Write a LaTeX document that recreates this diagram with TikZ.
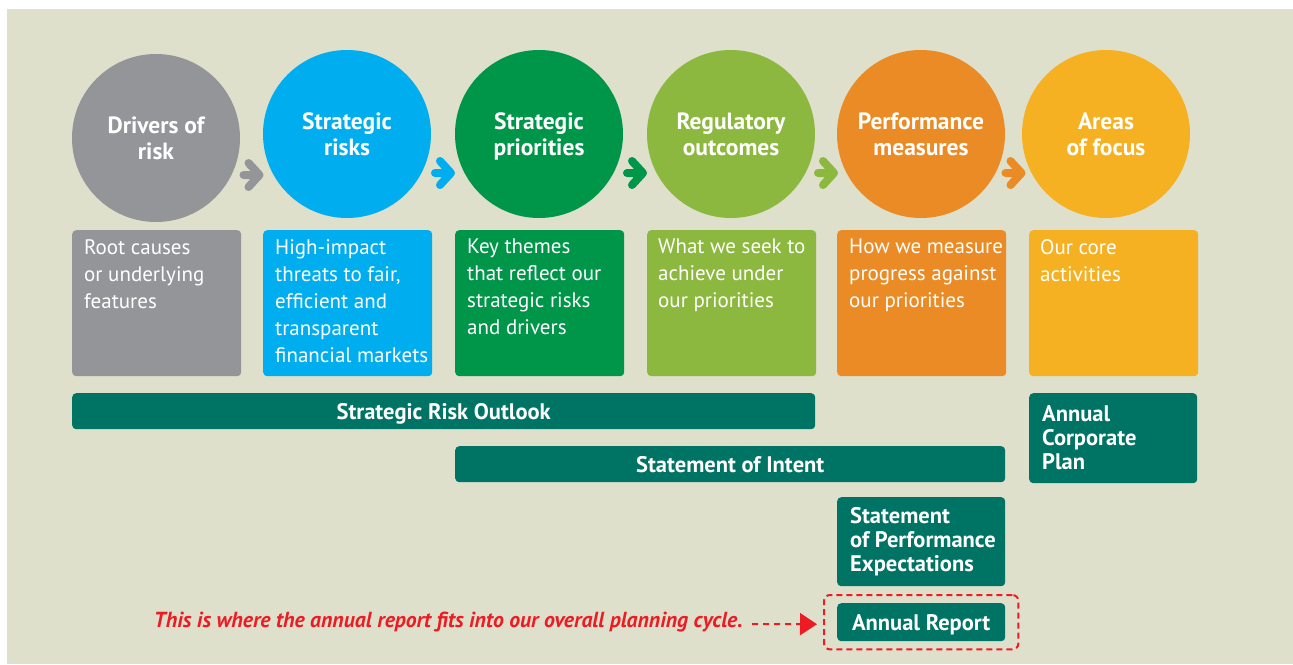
\documentclass[tikz,border=0pt]{standalone}
\usepackage{fontspec}
\setmainfont{PT Sans}
\usepackage{xcolor}
\usetikzlibrary{positioning, calc, fit, arrows.meta}

\definecolor{bgc}{HTML}{DEE0CB}
\definecolor{driverc}{HTML}{939598}
\definecolor{riskc}{HTML}{00AEEF}
\definecolor{priorc}{HTML}{00964A}
\definecolor{outcomec}{HTML}{8DB83F}
\definecolor{measurec}{HTML}{EA8B25}
\definecolor{focusc}{HTML}{F5B121}
\definecolor{docc}{HTML}{007464}
\definecolor{notec}{HTML}{ED1C24}

% short arrow halfway between two circles
\newcommand{\flowarrow}[3]{%
	\draw[Flow, #3] ($(#1.east)!0.5!(#2.west)+(-8,39)$) -- ++(16,0)
	++(-11,-12) -- ++(11,12) -- ++(-11,12);
}

\begin{document}
\begin{tikzpicture}[
			x=1pt, y=-1pt,
			Circ/.style={
				circle, minimum size=168pt, inner sep=0,
				text=white, align=center, text depth=0pt,
				font=\bfseries\fontsize{23.5}{26}\selectfont
			},
			Box/.style={
				rounded corners=4pt, minimum width=169pt, minimum height=146pt,
				anchor=north west, inner sep=0
			},
			BoxText/.style={
				anchor=north west, inner sep=0, text=white, align=left,
				font=\fontsize{21}{27}\selectfont
			},
			Doc/.style={
				fill=docc, rounded corners=4pt, inner sep=0, text=white,
				anchor=north west, font=\bfseries\fontsize{22.5}{24}\selectfont
			},
			DocLine/.style={Doc, text depth=0pt},
			DocText/.style={
				anchor=west, inner sep=0, text=white, align=left,
				font=\bfseries\fontsize{22.5}{24}\selectfont
			},
			Flow/.style={line width=8pt, line cap=round, line join=round}
			]
			
			\useasboundingbox (0,0) rectangle (1293,664);
			\fill[bgc] (7,9) rectangle (1293,664);
			
			\path
			(156,134)  node [Circ, fill=driverc, yshift=-4pt] (drivers) {Drivers of\\risk}
			(347,134)  node [Circ, fill=riskc]    (risks)      {Strategic\\risks}
			(539,134)  node [Circ, fill=priorc]   (priorities) {Strategic\\priorities}
			(731,134)  node [Circ, fill=outcomec] (outcomes)   {Regulatory\\outcomes}
			(921,134)  node [Circ, fill=measurec] (measures)   {Performance\\measures}
			(1106,134) node [Circ, fill=focusc]   (focus)      {Areas\\of focus};
			
			\flowarrow{drivers}{risks}{driverc}
			\flowarrow{risks}{priorities}{riskc}
			\flowarrow{priorities}{outcomes}{priorc}
			\flowarrow{outcomes}{measures}{outcomec}
			\flowarrow{measures}{focus}{measurec}
			
			\path
			(72,230)   node [Box, fill=driverc]  (driversbox)    {}
			(263,230)  node [Box, fill=riskc]    (risksbox)      {}
			(455,230)  node [Box, fill=priorc]   (prioritiesbox) {}
			(647,230)  node [Box, fill=outcomec] (outcomesbox)   {}
			(837,230)  node [Box, fill=measurec] (measuresbox)   {}
			(1029,230) node [Box, fill=focusc]   (focusbox)      {};
			
			\path
			($(driversbox.north west)+(12,9)$) node [BoxText]
			{Root causes\\or underlying\\features}
			($(risksbox.north west)+(12,9)$) node [BoxText]
			{High-impact\\threats to fair,\\efficient and\\transparent\\financial markets}
			($(prioritiesbox.north west)+(12,9)$) node [BoxText]
			{Key themes\\that reflect our\\strategic risks\\and drivers}
			($(outcomesbox.north west)+(11,9)$) node [BoxText]
			{What we seek to\\achieve under\\our priorities}
			($(measuresbox.north west)+(12,9)$) node [BoxText]
			{How we measure\\progress against\\our priorities}
			($(focusbox.north west)+(11,9)$) node [BoxText]
			{Our core\\activities};
			
			\path
			(72,393)   node [DocLine, minimum width=743pt, minimum height=36pt]
			(outlook) {Strategic Risk Outlook}
			(455,446)  node [DocLine, minimum width=550pt, minimum height=36pt]
			(intent) {Statement of Intent}
			(1029,393) node [Doc, minimum width=168pt, minimum height=90pt] (plan) {}
			(837,497)  node [Doc, minimum width=168pt, minimum height=89pt] (spe) {}
			(837,603)  node [DocLine, minimum width=168pt, minimum height=38pt]
			(report) {Annual Report};
			
			\path
			($(plan.west)+(13,0)$) node [DocText] {Annual\\Corporate\\Plan}
			($(spe.west)+(13,0)$)  node [DocText] {Statement\\of Performance\\Expectations};
			
			\node [fit=(report), draw=notec, line width=2pt, dash pattern=on 6pt off 4pt,
			rounded corners=6pt, inner xsep=13pt, inner ysep=8pt] (frame) {};
			
			\node [anchor=east, inner sep=0, text=notec,
			font=\bfseries\itshape\fontsize{21.75}{24}\selectfont] (note) at (743,622)
			{This is where the annual report fits into our overall planning cycle.};
			
			\draw [notec, line width=2pt, dash pattern=on 6pt off 5pt,
			-{Triangle[length=17pt, width=22pt, sep=0pt]}]
			($(note.east)+(9,2)$) -- ($(frame.west)+(-6,2)$);
		\end{tikzpicture}
\end{document}
